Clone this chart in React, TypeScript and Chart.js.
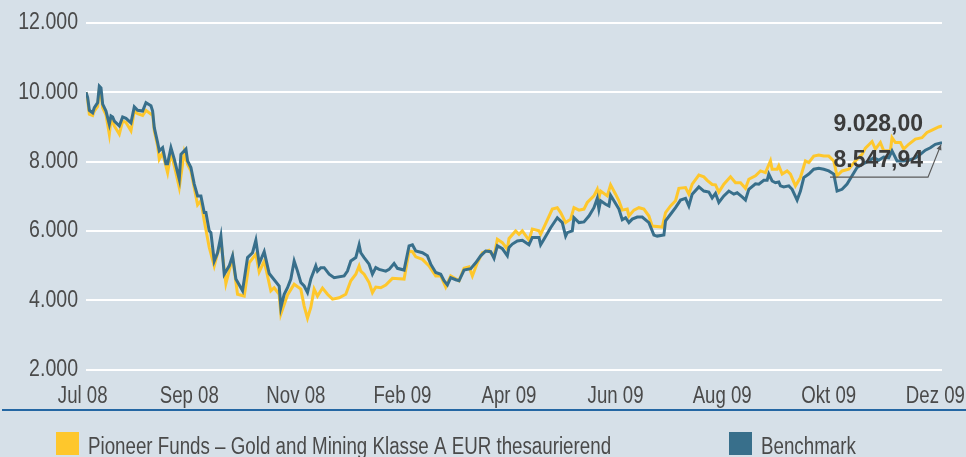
import React, { useEffect, useRef } from "react";
import { Chart, registerables } from "chart.js";

Chart.register(...registerables);

// ---- data -----------------------------------------------------------------
const tickLabels = ["Jul 08", "Sep 08", "Nov 08", "Feb 09", "Apr 09", "Jun 09", "Aug 09", "Okt 09", "Dez 09"];
const tickDays = [-2, 62, 126, 190, 254, 318, 382, 446, 510];
const lastDay = 514;

const fundLabel = "Pioneer Funds \u2013 Gold and Mining Klasse A EUR thesaurierend";
const benchLabel = "Benchmark";

const fundDays = [0,1,2,4,5,7,8,9,10,12,14,15,16,17,20,22,24,27,29,31,34,36,39,40,41,43,44,46,49,51,53,56,59,61,63,67,69,71,74,77,81,84,88,91,95,98,102,104,107,111,113,116,117,121,125,129,131,133,135,137,139,142,145,148,152,156,159,162,164,165,167,170,172,174,177,180,184,188,191,194,196,198,202,206,210,213,216,219,224,227,230,232,235,238,242,245,247,250,253,254,258,260,262,266,268,272,273,276,280,283,285,288,291,293,296,299,301,305,307,308,309,313,315,318,320,322,325,326,329,332,335,338,340,346,348,351,354,356,360,362,364,368,371,373,376,378,380,383,387,390,393,396,398,402,405,408,411,412,415,416,418,421,423,426,429,432,434,437,440,443,446,449,451,454,458,462,466,468,472,474,477,479,483,484,486,489,491,494,498,502,505,508,512,514];
const fundValues = [10000,9780,9370,9330,9460,9590,10070,9980,9550,9350,8790,9200,9140,9030,8790,9170,9130,8890,9460,9380,9330,9480,9370,9380,8890,8450,8070,8250,7680,8250,7880,7250,8260,7920,7730,6750,6870,6290,5520,4990,5710,4480,5230,4170,4120,5080,5330,4820,5130,4270,4360,4170,3600,4150,4460,4320,3830,3480,3790,4320,4120,4350,4170,4030,4070,4170,4560,4750,4990,4840,4750,4510,4220,4380,4360,4440,4630,4620,4610,5420,5400,5250,5180,4990,4700,4700,4380,4700,4560,4920,4960,4700,5080,5370,5440,5250,5760,5660,5470,5780,6000,5900,6000,5730,6050,6000,5900,6210,6630,6670,6530,6240,6340,6670,6600,6630,6820,7010,7200,6960,7150,7010,7330,7060,6870,6600,6630,6430,6600,6670,6630,6430,6140,6110,6530,6720,6870,7230,7250,7060,7350,7610,7560,7460,7340,7330,7120,7350,7560,7390,7390,7230,7490,7590,7730,7680,8020,7780,7780,7880,7640,7730,7640,7300,7540,8020,7970,8160,8190,8160,8160,8020,7590,7730,7780,8020,8210,8390,8580,8360,8550,8310,8310,8690,8550,8550,8360,8500,8650,8690,8840,8910,9000,9028.0];

const benchDays = [0,1,2,4,5,7,8,9,10,12,14,15,16,17,20,22,24,27,29,31,34,36,39,40,41,43,44,46,48,49,51,53,56,57,60,61,63,65,67,69,71,72,74,75,77,79,81,83,86,88,90,94,97,100,102,104,107,110,116,117,119,121,123,125,127,129,131,133,135,138,139,141,143,146,149,155,157,159,162,164,165,167,170,172,174,176,180,182,185,187,191,194,196,198,202,205,207,210,213,215,217,219,222,224,227,231,234,237,240,243,245,247,250,253,254,256,259,262,266,268,272,273,275,279,283,286,288,289,292,293,296,299,302,305,307,308,309,312,314,315,317,320,322,324,326,328,331,334,338,341,343,347,348,351,354,357,360,362,364,368,371,374,376,378,380,383,386,389,391,394,396,398,402,404,407,409,410,412,414,416,417,419,422,424,427,429,431,434,437,440,443,446,449,451,454,457,460,463,466,470,473,476,479,482,484,487,491,494,498,501,504,507,510,514];
const benchValues = [10000,9850,9480,9410,9560,9700,10180,10130,9660,9460,9080,9320,9290,9170,9030,9290,9250,9120,9580,9480,9460,9700,9610,9460,8980,8550,8310,8400,7940,7940,8400,8070,7490,8210,8360,8020,7830,7350,7010,7010,6530,6530,6000,5950,5130,5370,5850,4750,4990,5280,4610,4270,5230,5370,5730,5060,5400,4770,4410,3790,4170,4360,4610,5130,4840,4510,4410,4220,4610,4990,4840,4940,4940,4750,4650,4700,4840,5130,5230,5600,5370,5230,5040,4750,4940,4890,4840,4890,5060,4920,4870,5570,5600,5420,5370,5280,5040,4800,4750,4560,4440,4650,4590,4560,4870,4910,5080,5280,5420,5400,5210,5570,5490,5280,5520,5620,5710,5730,5600,5810,5810,5600,5760,6090,6380,6240,5850,5950,6000,6380,6240,6260,6430,6670,6940,6630,6870,6770,6720,7030,6870,6630,6320,6380,6240,6340,6400,6400,6240,5880,5850,5880,6290,6480,6670,6890,6940,6720,7060,7270,7150,7120,6950,7080,6820,7010,7150,7060,7100,6980,6890,7200,7360,7350,7460,7460,7640,7440,7390,7410,7300,7270,7300,7200,6890,7150,7540,7640,7780,7810,7780,7730,7640,7150,7200,7350,7590,7830,7920,8020,8110,8040,8130,8110,8310,8020,8020,8040,8110,8210,8330,8400,8500,8547.94];

const yMin = 2000;
const yMax = 12000;
const yStep = 2000;

// ---- styling --------------------------------------------------------------
const BG = "#d6e0e8";
const FUND_COLOR = "#fec72c";
const BENCH_COLOR = "#386f8b";
const TEXT_COLOR = "#4a4a4a";
const SANS = '"Liberation Sans", Arial, sans-serif';

function formatDE(n: number, decimals: number): string {
  const s = n.toFixed(decimals);
  const [intPart, frac] = s.split(".");
  const withSep = intPart.replace(/\B(?=(\d{3})+(?!\d))/g, ".");
  return frac !== undefined ? withSep + "," + frac : withSep;
}

// draw condensed text (horizontal scale) as real canvas text
function narrowText(
  ctx: CanvasRenderingContext2D,
  text: string,
  x: number,
  y: number,
  align: CanvasTextAlign,
  baseline: CanvasTextBaseline,
  size: number,
  sx: number,
  color: string
) {
  ctx.save();
  ctx.font = `${size}px ${SANS}`;
  ctx.fillStyle = color;
  ctx.textAlign = align;
  ctx.textBaseline = baseline;
  ctx.translate(x, y);
  ctx.scale(sx, 1);
  ctx.fillText(text, 0, 0);
  ctx.restore();
}

const decorPlugin = {
  id: "decor",
  afterDraw(chart: any) {
    const ctx: CanvasRenderingContext2D = chart.ctx;
    const xs = chart.scales.x;
    const ys = chart.scales.y;

    // y tick labels
    for (const t of ys.ticks) {
      const py = ys.getPixelForValue(t.value);
      narrowText(ctx, formatDE(t.value, 0), ys.right - 8, py, "right", "middle", 23, 0.85, TEXT_COLOR);
    }
    // x tick labels
    tickLabels.forEach((lab, i) => {
      const px = xs.getPixelForValue(tickDays[i]);
      narrowText(ctx, lab, px, 403, "center", "alphabetic", 23, 0.81, TEXT_COLOR);
    });

    // annotation for last values
    const fundMeta = chart.getDatasetMeta(0);
    const benchMeta = chart.getDatasetMeta(1);
    const fp = fundMeta.data[fundMeta.data.length - 1];
    const bp = benchMeta.data[benchMeta.data.length - 1];
    ctx.save();
    if (fp && bp) {
      ctx.strokeStyle = "#5a5a5a";
      ctx.lineWidth = 1.2;
      ctx.beginPath();
      ctx.moveTo(bp.x - 112, bp.y + 34.5);
      ctx.lineTo(bp.x - 14, bp.y + 34.5);
      ctx.lineTo(bp.x - 1, bp.y + 2);
      ctx.stroke();
      const ang = Math.atan2(-32.5, 13);
      ctx.fillStyle = "#5a5a5a";
      const tx = bp.x - 1, ty = bp.y + 2;
      ctx.beginPath();
      ctx.moveTo(tx, ty);
      ctx.lineTo(tx - 6 * Math.cos(ang - 0.45), ty - 6 * Math.sin(ang - 0.45));
      ctx.lineTo(tx - 6 * Math.cos(ang + 0.45), ty - 6 * Math.sin(ang + 0.45));
      ctx.closePath();
      ctx.fill();
      ctx.font = `bold 23px ${SANS}`;
      ctx.fillStyle = "#3b3b3b";
      ctx.textAlign = "right";
      ctx.textBaseline = "middle";
      ctx.fillText(formatDE(fundValues[fundValues.length - 1], 2), fp.x - 19, fp.y - 1.5);
      ctx.fillText(formatDE(benchValues[benchValues.length - 1], 2), bp.x - 19, bp.y + 18.5);
    }

    // separator line
    ctx.strokeStyle = "#2467a3";
    ctx.lineWidth = 2;
    ctx.beginPath();
    ctx.moveTo(2, 410);
    ctx.lineTo(chart.width, 410);
    ctx.stroke();

    // legend
    const items = [
      { x: 56, label: chart.data.datasets[0].label, color: chart.data.datasets[0].borderColor },
      { x: 729, label: chart.data.datasets[1].label, color: chart.data.datasets[1].borderColor },
    ];
    for (const it of items) {
      ctx.fillStyle = it.color;
      ctx.fillRect(it.x, 432, 23, 23);
      narrowText(ctx, it.label, it.x + 32, 454, "left", "alphabetic", 23, 0.815, TEXT_COLOR);
    }
    ctx.restore();
  },
};

export default function App() {
  const canvasRef = useRef<HTMLCanvasElement | null>(null);

  useEffect(() => {
    document.body.style.margin = "0";
    document.body.style.background = BG;
    const canvas = canvasRef.current;
    if (!canvas) return;
    const chart = new Chart(canvas, {
      type: "line",
      data: {
        datasets: [
          {
            label: fundLabel,
            data: fundDays.map((d, i) => ({ x: d, y: fundValues[i] })),
            borderColor: FUND_COLOR,
            backgroundColor: FUND_COLOR,
            borderWidth: 3,
            pointRadius: 0,
            tension: 0,
            order: 2,
          },
          {
            label: benchLabel,
            data: benchDays.map((d, i) => ({ x: d, y: benchValues[i] })),
            borderColor: BENCH_COLOR,
            backgroundColor: BENCH_COLOR,
            borderWidth: 3,
            pointRadius: 0,
            tension: 0,
            order: 1,
          },
        ],
      },
      options: {
        animation: false,
        responsive: false,
        maintainAspectRatio: false,
        layout: { padding: { top: 23, right: 24, bottom: 87.5, left: 0 } },
        plugins: { legend: { display: false }, tooltip: { enabled: false } },
        scales: {
          x: {
            type: "linear",
            min: 0,
            max: lastDay,
            grid: { display: false, drawTicks: false },
            border: { display: false },
            ticks: { display: false },
            afterFit: (scale: any) => {
              scale.height = 0;
            },
          },
          y: {
            min: yMin,
            max: yMax,
            grid: { color: "#ffffff", lineWidth: 2, drawTicks: false },
            border: { display: false },
            ticks: { display: false, stepSize: yStep },
            afterFit: (scale: any) => {
              scale.width = 86;
            },
          },
        },
      },
      plugins: [decorPlugin],
    });
    return () => chart.destroy();
  }, []);

  return (
    <div style={{ position: "absolute", left: 0, top: 0, width: 966, height: 457, background: BG }}>
      <canvas ref={canvasRef} width={966} height={457} style={{ display: "block", width: 966, height: 457 }} />
    </div>
  );
}
